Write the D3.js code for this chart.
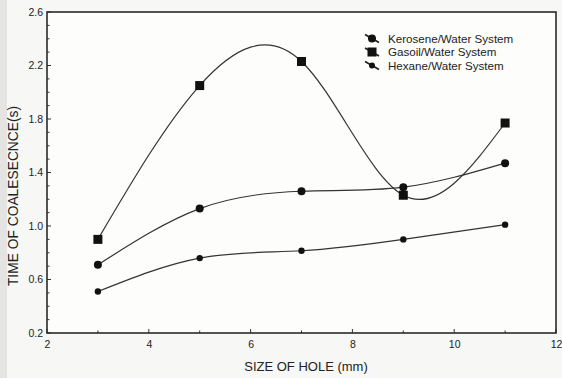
<!DOCTYPE html>
<html><head><meta charset="utf-8">
<script src="https://cdn.jsdelivr.net/npm/d3@7"></script>
<style>
html,body{margin:0;padding:0;background:#f7f7f5;}
svg{display:block;font-family:Arial,"Liberation Sans",sans-serif;}
</style></head>
<body>
<svg id="c" width="562" height="378"></svg>
<script>
const holeSizes = [3, 5, 7, 9, 11];
const kerosene = [0.71, 1.13, 1.26, 1.29, 1.47];
const gasoil = [0.90, 2.05, 2.23, 1.23, 1.77];
const hexane = [0.51, 0.76, 0.815, 0.90, 1.01];
const seriesNames = ["Kerosene/Water System", "Gasoil/Water System", "Hexane/Water System"];
const xTicks = [2, 4, 6, 8, 10, 12];
const yTicks = [0.2, 0.6, 1.0, 1.4, 1.8, 2.2, 2.6];
const xTitle = "SIZE OF HOLE (mm)";
const yTitle = "TIME OF COALESECNCE(s)";

const svg = d3.select("#c");
const L = 47, R = 556, T = 12, B = 333;
const x = d3.scaleLinear().domain([2, 12]).range([L, R]);
const y = d3.scaleLinear().domain([0.2, 2.6]).range([B, T]);

svg.append("rect").attr("x",0).attr("y",0).attr("width",7).attr("height",378).attr("fill","#e4e4e2");
svg.append("rect").attr("x",L).attr("y",T).attr("width",R-L).attr("height",B-T).attr("fill","#fdfdfc");

// axes
const xAxis = d3.axisBottom(x).tickValues(xTicks).tickSize(0).tickPadding(8).tickFormat(d3.format("d"));
const yAxis = d3.axisLeft(y).tickValues(yTicks).tickSize(0).tickPadding(4).tickFormat(d3.format(".1f"));
const gx = svg.append("g").attr("transform",`translate(0,${B})`).call(xAxis);
const gy = svg.append("g").attr("transform",`translate(${L},0)`).call(yAxis);
[gx, gy].forEach(g => {
  g.select(".domain").remove();
  g.selectAll("text").attr("font-size", 10.5).attr("fill", "#222");
});

// minor inward ticks
const tk = svg.append("g").attr("stroke","#333").attr("stroke-width",1);
d3.range(0.2, 2.61, 0.1).forEach(v => {
  const major = yTicks.some(t => Math.abs(t - v) < 1e-6);
  tk.append("line").attr("x1",L).attr("x2",L + (major?4:2.5)).attr("y1",y(v)).attr("y2",y(v));
});
d3.range(2, 12.01, 1).forEach(v => {
  const major = xTicks.includes(Math.round(v));
  tk.append("line").attr("x1",x(v)).attr("x2",x(v)).attr("y1",B).attr("y2",B - (major?4:2.5));
});

// frame
svg.append("rect").attr("x",L).attr("y",T).attr("width",R-L).attr("height",B-T)
  .attr("fill","none").attr("stroke","#2a2a2a").attr("stroke-width",1.6);

// titles
svg.append("text").attr("x",306).attr("y",371).attr("text-anchor","middle")
  .attr("font-size",13).attr("fill","#222").text(xTitle);
svg.append("text").attr("transform",`translate(18,${196}) rotate(-90)`).attr("text-anchor","middle")
  .attr("font-size",13.8).attr("fill","#222").text(yTitle);

// series
const line = d3.line().x(d => x(d[0])).y(d => y(d[1])).curve(d3.curveNatural);
const series = [
  {vals: kerosene, sym: "circle", size: 4},
  {vals: gasoil, sym: "square", size: 4.5},
  {vals: hexane, sym: "circle", size: 3.2}
];
const plot = svg.append("g");
series.forEach(s => {
  const pts = holeSizes.map((h,i) => [h, s.vals[i]]);
  plot.append("path").attr("d", line(pts)).attr("fill","none").attr("stroke","#333").attr("stroke-width",1.2);
  pts.forEach(p => {
    if (s.sym === "square") {
      plot.append("rect").attr("x", x(p[0]) - s.size).attr("y", y(p[1]) - s.size)
        .attr("width", s.size*2).attr("height", s.size*2).attr("fill","#111");
    } else {
      plot.append("circle").attr("cx", x(p[0])).attr("cy", y(p[1])).attr("r", s.size).attr("fill","#111");
    }
  });
});

// legend
svg.append("clipPath").attr("id","lc").append("rect").attr("x",360).attr("y",25).attr("width",153).attr("height",52);
const lg = svg.append("g").attr("clip-path","url(#lc)");
const legY = [38.5, 52, 65.5];
seriesNames.forEach((n,i) => {
  const cx = 372, cy = legY[i];
  lg.append("line").attr("x1",cx-7).attr("y1",cy-4).attr("x2",cx+7).attr("y2",cy+4)
    .attr("stroke","#222").attr("stroke-width",1.8);
  if (series[i].sym === "square") {
    lg.append("rect").attr("x",cx-4.5).attr("y",cy-4.5).attr("width",9).attr("height",9).attr("fill","#111");
  } else {
    lg.append("circle").attr("cx",cx).attr("cy",cy).attr("r", i===0?4:3).attr("fill","#111");
  }
  lg.append("text").attr("x",388).attr("y",cy+4.2).attr("font-size",11.6).attr("fill","#222").text(n);
});
</script>
</body></html>
